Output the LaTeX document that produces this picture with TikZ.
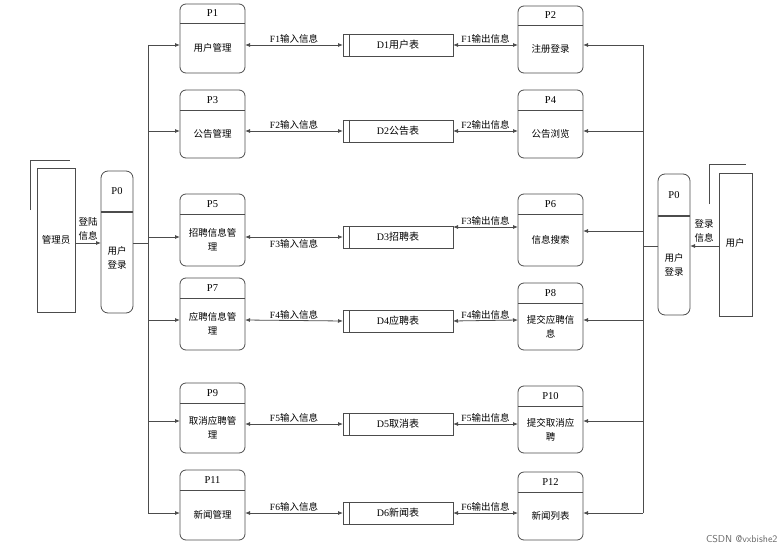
\documentclass[tikz,border=0pt]{standalone}
\usepackage{fontspec}
\setmainfont{Liberation Serif}
\newfontfamily\cjk{Noto Sans CJK SC}
\usetikzlibrary{arrows.meta}
\begin{document}
\begin{tikzpicture}[x=1pt,y=-1pt,
  line/.style={draw=black!70,line width=0.8pt},
  arr/.style={line,-{Latex[length=5pt,width=4pt]}},
  barr/.style={line,{Latex[length=5pt,width=4pt]}-{Latex[length=5pt,width=4pt]}},
  lab/.style={font=\cjk\fontsize{9.5}{14}\selectfont,inner sep=1pt},
  flab/.style={font=\fontsize{9.5}{10}\selectfont,inner sep=1pt,anchor=south}]
\useasboundingbox (0,0) rectangle (783,548);
% left processes
\foreach \n/\a/\b/\d/\id/\t/\ay in {
  p1/4/73/23/P1/{用户管理}/45, p3/90/158/110/P3/{公告管理}/131,
  p5/194/266/214/P5/{招聘信息管\\理}/237, p7/278/350/298/P7/{应聘信息管\\理}/320,
  p9/383/453/403/P9/{取消应聘管\\理}/421, p11/470/540/490/P11/{新闻管理}/513}{
  \draw[line,rounded corners=6pt] (180,\a) rectangle (245,\b);
  \draw[line] (180,\d) -- (245,\d);
  \node[font=\fontsize{10.5}{11}\selectfont] (\n t) at (212.5,{(\a+\d)/2}) {\id};
  \node[lab,align=center] (\n) at (212.5,{(\d+\b)/2}) {\t};
  \coordinate (\n L) at (180,\ay);
  \coordinate (\n R) at (245,\ay);
  \coordinate (\n T) at (148,\ay);
  \draw[arr] (\n T) -- (\n L);
}
\foreach \n/\a/\b/\d/\id/\t/\ay in {
  p2/6/73/25/P2/{注册登录}/45, p4/90/158/110/P4/{公告浏览}/131,
  p6/194/266/214/P6/{信息搜索}/231, p8/283/350/303/P8/{提交应聘信\\息}/320,
  p10/386/453/406/P10/{提交取消应\\聘}/421, p12/472/540/492/P12/{新闻列表}/513}{
  \draw[line,rounded corners=6pt] (518,\a) rectangle (583,\b);
  \draw[line] (518,\d) -- (583,\d);
  \node[font=\fontsize{10.5}{11}\selectfont] (\n t) at (550.5,{(\a+\d)/2}) {\id};
  \node[lab,align=center] (\n) at (550.5,{(\d+\b)/2}) {\t};
  \coordinate (\n L) at (518,\ay);
  \coordinate (\n R) at (583,\ay);
  \coordinate (\n T) at (643,\ay);
  \draw[arr] (\n T) -- (\n R);
}
% data stores
\foreach \n/\y/\k/\t in {
  d1/45/1/用户表, d2/131/2/公告表, d3/237/3/招聘表, d4/321/4/应聘表,
  d5/424/5/取消表, d6/513/6/新闻表}{
  \draw[line] (343,\y-11) rectangle (453,\y+11);
  \draw[line] (349,\y-11) -- (349,\y+11);
  \node[font=\fontsize{10}{10}\selectfont] (\n) at (398,\y) {D\k{\cjk\t}};
  \coordinate (\n L) at (343,\y);
  \coordinate (\n R) at (453,\y);
}
\def\inp{{\cjk 输入信息}}\def\outp{{\cjk 输出信息}}
\draw[barr] (p1R) -- (d1L) node[flab,midway] {F1\inp};
\draw[barr] (d1R) -- (p2L) node[flab,midway] {F1\outp};
\draw[barr] (p3R) -- (d2L) node[flab,midway] {F2\inp};
\draw[barr] (d2R) -- (p4L) node[flab,midway] {F2\outp};
\draw[barr] (p5R) -- (d3L) node[flab,midway,anchor=north,yshift=-1pt] {F3\inp};
\coordinate (d3R2) at (453,227); \coordinate (p6L2) at (518,227);
\draw[barr] (d3R2) -- (p6L2) node[flab,midway] {F3\outp};
\draw[barr] (p7R) -- (d4L) node[flab,midway] {F4\inp};
\draw[barr] (d4R) -- (p8L) node[flab,midway] {F4\outp};
\coordinate (p9R2) at (245,424);
\draw[barr] (p9R2) -- (d5L) node[flab,midway] {F5\inp};
\coordinate (p10L2) at (518,424);
\draw[barr] (d5R) -- (p10L2) node[flab,midway] {F5\outp};
\draw[barr] (p11R) -- (d6L) node[flab,midway] {F6\inp};
\draw[barr] (d6R) -- (p12L) node[flab,midway] {F6\outp};
% trunks
\draw[line] (p1T) -- (p11T);
\draw[line] (p2T) -- (p12T);
% left P0 and admin
\draw[line,rounded corners=7pt] (101,171) rectangle (133,313);
\draw[line,line width=1.1pt] (101,212) -- (133,212);
\node[font=\fontsize{10.5}{11}\selectfont] (lp0t) at (117,191) {P0};
\node[lab,align=center] (lp0) at (117,258) {用户\\登录};
\draw[line] (37,168) rectangle (75,312);
\draw[line] (30,210) -- (30,160) -- (70,160);
\node[lab] (admin) at (56,240) {管理员};
\coordinate (admR) at (75,243); \coordinate (lp0L) at (101,243);
\draw[arr] (admR) -- (lp0L);
\node[lab,align=center] at (88,229) {登陆\\信息};
\coordinate (lp0R) at (133,243); \coordinate (lT) at (148,243);
\draw[line] (lp0R) -- (lT);
% right P0 and user
\draw[line,rounded corners=7pt] (658,174) rectangle (690,315);
\draw[line,line width=1.1pt] (658,216) -- (690,216);
\node[font=\fontsize{10.5}{11}\selectfont] (rp0t) at (674,195) {P0};
\node[lab,align=center] (rp0) at (674,265) {用户\\登录};
\draw[line] (719,173) rectangle (752,316);
\draw[line] (709,204) -- (709,164) -- (746,164);
\node[lab] (user) at (735,243) {用户};
\coordinate (usrL) at (719,246); \coordinate (rp0R) at (690,246);
\draw[arr] (usrL) -- (rp0R);
\node[lab,align=center] at (704,231) {登录\\信息};
\coordinate (rp0L) at (658,246); \coordinate (rT) at (643,246);
\draw[line] (rp0L) -- (rT);
\node[font=\fontsize{10}{11}\selectfont\sffamily,text=black!60,anchor=south east] at (781,546) {CSDN @vxbishe2};
\end{tikzpicture}
\end{document}
